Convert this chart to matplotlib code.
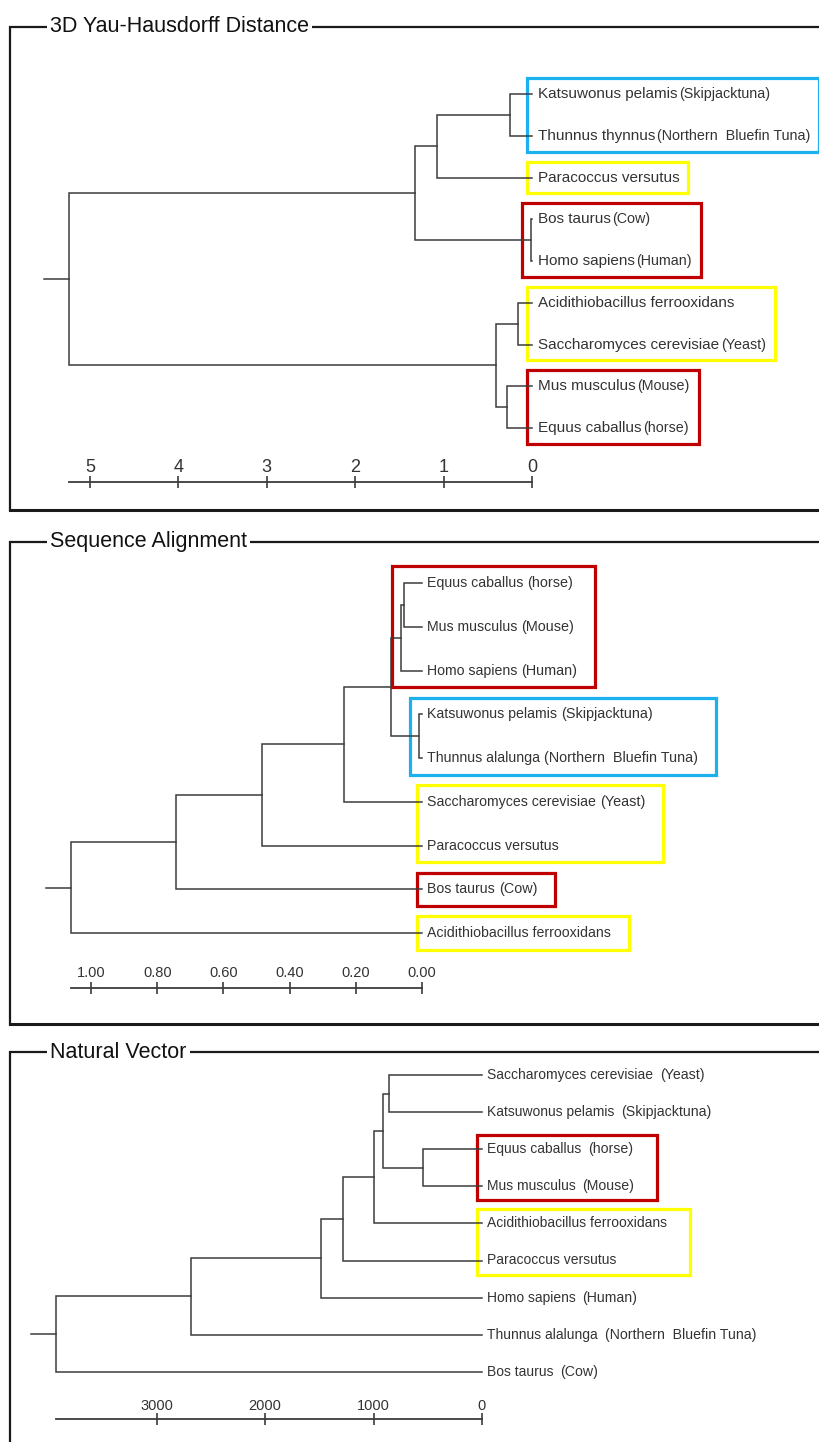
#!/usr/bin/env python
# -*- coding: utf-8 -*-

import matplotlib
matplotlib.use("Agg")
import matplotlib.pyplot as plt
from matplotlib.patches import Rectangle
from matplotlib import font_manager

plt.rcParams['font.family'] = ['Liberation Sans', 'DejaVu Sans']

W, H = 820, 1442

# ------------------------------------------------------------------
# data : leaves are listed top to bottom, merges are (child a, child b, height)
# new nodes get numbers len(names), len(names)+1, ...
# ------------------------------------------------------------------

# 3D Yau-Hausdorff distance
yau_names = ["Katsuwonus pelamis", "Thunnus thynnus", "Paracoccus versutus", "Bos taurus",
             "Homo sapiens", "Acidithiobacillus ferrooxidans", "Saccharomyces cerevisiae",
             "Mus musculus", "Equus caballus"]
yau_notes = ["(Skipjacktuna)", "(Northern  Bluefin Tuna)", "", "(Cow)", "(Human)", "",
             "(Yeast)", "(Mouse)", "(horse)"]
yau_merges = [(0, 1, 0.25), (3, 4, 0.01), (9, 2, 1.07), (11, 10, 1.32),
              (5, 6, 0.16), (7, 8, 0.28), (13, 14, 0.41), (12, 15, 5.24)]
yau_ticks = [5, 4, 3, 2, 1, 0]
yau_ticklabels = ["5", "4", "3", "2", "1", "0"]
# boxed groups : (first leaf, last leaf, colour, box also wraps the merge node)
yau_groups = [(0, 1, "blue", False), (2, 2, "yellow", False), (3, 4, "red", True),
              (5, 6, "yellow", False), (7, 8, "red", False)]

# Sequence alignment
seq_names = ["Equus caballus", "Mus musculus", "Homo sapiens", "Katsuwonus pelamis",
             "Thunnus alalunga", "Saccharomyces cerevisiae", "Paracoccus versutus",
             "Bos taurus", "Acidithiobacillus ferrooxidans"]
seq_notes = ["(horse)", "(Mouse)", "(Human)", "(Skipjacktuna)", "(Northern  Bluefin Tuna)",
             "(Yeast)", "", "(Cow)", ""]
seq_merges = [(0, 1, 0.054), (9, 2, 0.063), (3, 4, 0.009), (10, 11, 0.094),
              (12, 5, 0.236), (13, 6, 0.483), (14, 7, 0.743), (15, 8, 1.06)]
seq_ticks = [1.0, 0.8, 0.6, 0.4, 0.2, 0.0]
seq_ticklabels = ["1.00", "0.80", "0.60", "0.40", "0.20", "0.00"]
seq_groups = [(0, 2, "red", True), (3, 4, "blue", True), (5, 6, "yellow", False),
              (7, 7, "red", False), (8, 8, "yellow", False)]

# Natural vector
nv_names = ["Saccharomyces cerevisiae", "Katsuwonus pelamis", "Equus caballus", "Mus musculus",
            "Acidithiobacillus ferrooxidans", "Paracoccus versutus", "Homo sapiens",
            "Thunnus alalunga", "Bos taurus"]
nv_notes = ["(Yeast)", "(Skipjacktuna)", "(horse)", "(Mouse)", "", "", "(Human)",
            "(Northern  Bluefin Tuna)", "(Cow)"]
nv_merges = [(0, 1, 857), (2, 3, 544), (9, 10, 912), (11, 4, 995),
             (12, 5, 1281), (13, 6, 1484), (14, 7, 2682), (15, 8, 3926)]
nv_ticks = [3000, 2000, 1000, 0]
nv_ticklabels = ["3000", "2000", "1000", "0"]
nv_groups = [(2, 3, "red", False), (4, 5, "yellow", False)]

# ------------------------------------------------------------------
# styles / layout (pixels, origin top left)
# ------------------------------------------------------------------
COLOURS = {"blue": "#1CB0EE", "yellow": "#FFFF00", "red": "#C00000"}
LINE = "#3c3c3c"
TEXT = "#333333"
FRAME = "#1a1a1a"

available = set(f.name for f in font_manager.fontManager.ttflist)
NARROW = "Liberation Sans Narrow" if "Liberation Sans Narrow" in available else "Liberation Sans"

layouts = [
    dict(title="3D Yau-Hausdorff Distance", top=27, bottom=510, zero=532, ppu=88.4,
         first=94, step=41.75, scale_y=482, label_y=467, name_size=11, note_size=10.3,
         text_gap=4, note_gap=1.5, tick_size=13, box_pad=9),
    dict(title="Sequence Alignment", top=542, bottom=1024, zero=422, ppu=331.0,
         first=583, step=43.75, scale_y=988, label_y=973, name_size=10.2, note_size=10.4,
         text_gap=3.5, note_gap=3, tick_size=10.5, box_pad=18),
    dict(title="Natural Vector", top=1052, bottom=None, zero=482, ppu=0.1085,
         first=1075, step=37.1, scale_y=1419, label_y=1406, name_size=10, note_size=10.2,
         text_gap=3.5, note_gap=5, tick_size=10.5, box_pad=23),
]


def leaves_under(merges, n):
    sets = [set([i]) for i in range(n)]
    for a, b, h in merges:
        sets.append(sets[a] | sets[b])
    return sets


def draw_panel(fig, lay, names, notes, merges, ticks, ticklabels, groups):
    ax = fig.add_axes([0, 0, 1, 1])
    ax.set_axis_off()
    ax.patch.set_alpha(0)
    z, u = lay["zero"], lay["ppu"]
    f, s = lay["first"], lay["step"]
    # axes covers the whole figure, distance grows to the left
    ax.set_xlim(z / u, (z - W) / u)
    ax.set_ylim((H - f) / s, -f / s)

    n = len(names)
    xs = [0.0] * n
    ys = [float(i) for i in range(n)]
    for a, b, h in merges:
        ax.plot([xs[a], h, h, xs[b]], [ys[a], ys[a], ys[b], ys[b]],
                color=LINE, lw=1.1, solid_joinstyle="miter", clip_on=False)
        xs.append(h)
        ys.append((ys[a] + ys[b]) / 2.0)
    root = len(xs) - 1
    # small stem at the root
    ax.plot([xs[root], xs[root] + 25.0 / u], [ys[root], ys[root]], color=LINE, lw=1.1)

    # leaf labels (name + note)
    parts = []
    for i in range(n):
        t = ax.annotate(names[i], xy=(0, i), xytext=(lay["text_gap"], 0),
                        textcoords="offset points", va="center", ha="left",
                        fontsize=lay["name_size"], color=TEXT)
        p = [t]
        if notes[i]:
            t2 = ax.annotate(notes[i], xy=(1, 0.5), xycoords=t, xytext=(lay["note_gap"], 0),
                             textcoords="offset points", va="center", ha="left",
                             fontsize=lay["note_size"], color=TEXT)
            p.append(t2)
        parts.append(p)

    # distance scale
    sy = (lay["scale_y"] - f) / s
    ly = (lay["label_y"] - f) / s
    ax.plot([xs[root], 0], [sy, sy], color=LINE, lw=1.3)
    ax.plot(ticks, [sy] * len(ticks), ls="none", marker="|", ms=8, mew=1.2, color=LINE)
    for tk, lbl in zip(ticks, ticklabels):
        ax.text(tk, ly, lbl, ha="center", va="center", fontsize=lay["tick_size"],
                color=TEXT, family=NARROW)

    # coloured boxes around groups of leaves
    fig.canvas.draw()
    renderer = fig.canvas.get_renderer()
    inv = ax.transData.inverted()
    sets = leaves_under(merges, n)
    for first, last, col, wrap in groups:
        right_px = max(a.get_window_extent(renderer).x1
                       for i in range(first, last + 1) for a in parts[i])
        right = inv.transform((right_px + lay["box_pad"], 0))[0]
        if wrap:
            want = set(range(first, last + 1))
            node = [k for k in range(len(sets)) if sets[k] == want][0]
            left = xs[node] + 9.0 / u
        else:
            left = 5.0 / u
        ax.add_patch(Rectangle((right, first - 0.38), left - right, last - first + 0.76,
                               fill=False, edgecolor=COLOURS[col], lw=2.3, clip_on=False))
    return ax


fig = plt.figure(figsize=(W / 100.0, H / 100.0), dpi=100)
fig.patch.set_facecolor("white")

# frames with the titles sitting on the top edge
frame_ax = fig.add_axes([0, 0, 1, 1])
frame_ax.set_axis_off()
frame_ax.set_xlim(0, W)
frame_ax.set_ylim(H, 0)
for lay in layouts:
    bottom = lay["bottom"] if lay["bottom"] else H + 5
    frame_ax.plot([W + 5, 10, 10], [lay["top"], lay["top"], bottom],
                  color=FRAME, lw=1.6, solid_joinstyle="miter")
    if lay["bottom"]:
        # bottom edge is a little heavier in the original
        frame_ax.plot([10, W + 5], [bottom, bottom], color=FRAME, lw=2.2,
                      solid_capstyle="projecting")
    frame_ax.text(50, lay["top"], lay["title"], ha="left", va="center", fontsize=15.5,
                  color="#111111",
                  bbox=dict(boxstyle="square,pad=0.15", fc="white", ec="none"))

panels = [
    (yau_names, yau_notes, yau_merges, yau_ticks, yau_ticklabels, yau_groups),
    (seq_names, seq_notes, seq_merges, seq_ticks, seq_ticklabels, seq_groups),
    (nv_names, nv_notes, nv_merges, nv_ticks, nv_ticklabels, nv_groups),
]
for lay, pdata in zip(layouts, panels):
    draw_panel(fig, lay, *pdata)

fig.savefig("out.png", dpi=100, facecolor="white")
